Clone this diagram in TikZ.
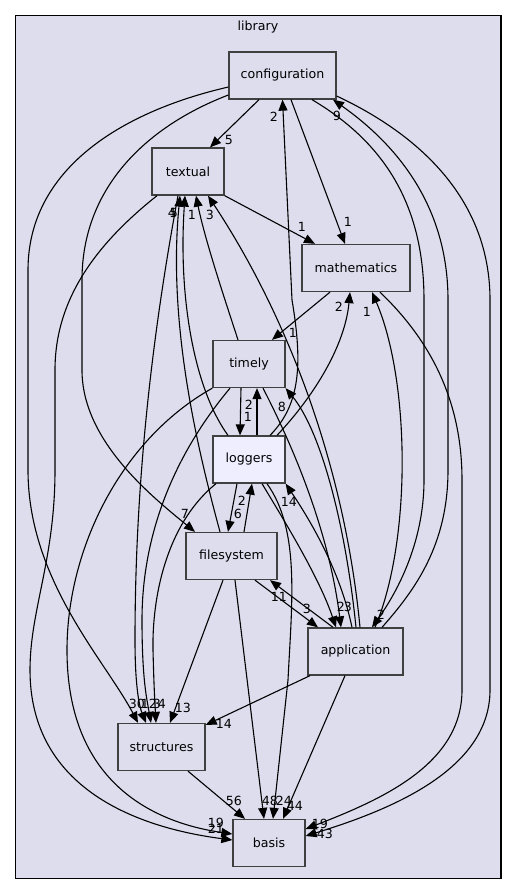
\documentclass[tikz,border=0pt]{standalone}
\usepackage{fontspec}
\setmainfont{DejaVu Sans}
\usetikzlibrary{positioning}
\usetikzlibrary{calc}
\usetikzlibrary{arrows.meta}
\definecolor{dirfill}{HTML}{DDDDEE}
\definecolor{dirmark}{HTML}{EEEEFF}
\definecolor{dirline}{HTML}{404040}

\begin{document}
\begin{tikzpicture}[
        x=1pt, y=-1pt,
        box/.style={draw=dirline, fill=dirfill, rectangle, line width=1.3pt, minimum height=47pt, inner sep=0pt, font=\fontsize{12.6}{14}\selectfont},
        arrow/.style={line width=1.1pt, -{Triangle[length=11pt,width=9pt]}},
        num/.style={inner sep=0pt, font=\fontsize{12.6}{14}\selectfont},
    ]
        \useasboundingbox (0,0) rectangle (517,895);
        \draw[fill=dirfill, line width=1.1pt] (15.5,15.5) rectangle (501,878.5);
        \node[num] (library) at (258,27) {library};

        \node[box, minimum width=107pt] (configuration) at (282.5,75.5) {configuration};
        \node[box, minimum width=72pt] (textual) at (188,171.5) {textual};
        \node[box, minimum width=108pt] (mathematics) at (356,268) {mathematics};
        \node[box, minimum width=72pt] (timely) at (249,364) {timely};
        \node[box, minimum width=72pt, fill=dirmark] (loggers) at (249,459.5) {loggers};
        \node[box, minimum width=91pt] (filesystem) at (231.5,556) {filesystem};
        \node[box, minimum width=95pt] (application) at (355.5,651.5) {application};
        \node[box, minimum width=87pt] (structures) at (161.5,747) {structures};
        \node[box, minimum width=72pt] (basis) at (269,843) {basis};

        % configuration
        \draw[arrow] ([xshift=-23.5pt]configuration.south) -- ([xshift=22pt]textual.north);
        \draw[arrow] ([xshift=8.5pt]configuration.south) -- ([xshift=-11pt]mathematics.north);
        \draw[arrow] ([yshift=-19.5pt]configuration.west) .. controls (150,125) and (82,185) .. (82,280) -- (82,370) .. controls (82,440) and (150,495) .. ([xshift=-36.5pt]filesystem.north);
        \draw[arrow] ([yshift=-11.5pt]configuration.west) .. controls (120,112) and (28,170) .. (28,270) -- (28,470) .. controls (28,580) and (105,660) .. ([xshift=-23.5pt]structures.north);
        \draw[arrow] ([xshift=29.5pt]configuration.south) .. controls (380,140) and (424,200) .. (424,300) -- (424,480) .. controls (424,545) and (395,595) .. ([xshift=16.5pt]application.north);
        \draw[arrow] ([yshift=-20.5pt]configuration.east) .. controls (420,135) and (490,200) .. (490,300) -- (490,690) .. controls (490,770) and (390,810) .. ([yshift=7pt]basis.east);

        % textual
        \draw[arrow] (textual.south east) -- ([xshift=-41pt]mathematics.north);
        \draw[arrow] ([xshift=-10pt]textual.south) .. controls (155,320) and (135,470) .. (135,640) .. controls (135,690) and (140,708) .. ([xshift=-15.5pt]structures.north);
        \draw[arrow] ([xshift=-31pt]textual.south) .. controls (95,245) and (55,300) .. (55,370) -- (55,470) .. controls (55,560) and (30,610) .. (30,670) .. controls (30,790) and (140,828) .. ([yshift=3pt]basis.west);

        % mathematics
        \draw[arrow] ([xshift=-26pt]mathematics.south) -- ([xshift=23pt]timely.north);
        \draw[arrow] ([xshift=24pt]mathematics.south) .. controls (430,340) and (462,400) .. (462,480) -- (462,690) .. controls (462,765) and (380,800) .. ([yshift=14pt]basis.east);

        % timely
        \draw[arrow] ([xshift=-11pt]timely.north) .. controls (225,300) and (205,240) .. ([xshift=8pt]textual.south);
        \draw[arrow] ([xshift=-8pt]timely.south) -- ([xshift=-9pt]loggers.north);
        \draw[arrow] ([xshift=14pt]timely.south) .. controls (300,460) and (330,540) .. ([xshift=-14.5pt]application.north);
        \draw[arrow] ([xshift=-19pt]timely.south) .. controls (170,460) and (142,540) .. (142,620) .. controls (142,680) and (147,700) .. ([xshift=-10.5pt]structures.north);
        \draw[arrow] (timely.south west) .. controls (120,440) and (67,550) .. (67,650) .. controls (67,780) and (150,822) .. ([yshift=9pt]basis.west);

        % loggers
        \draw[arrow] ([xshift=21pt]loggers.north) .. controls (300,405) and (303,365) .. (292,300) -- (configuration.south);
        \draw[arrow] ([xshift=-21pt]loggers.north) .. controls (195,390) and (178,300) .. ([xshift=-3pt]textual.south);
        \draw[arrow] ([xshift=28pt]loggers.north) .. controls (315,395) and (345,345) .. ([xshift=-6pt]mathematics.south);
        \draw[arrow] ([xshift=8pt]loggers.north) -- ([xshift=8pt]timely.south);
        \draw[arrow] ([xshift=-12pt]loggers.south) -- ([xshift=-3.5pt]filesystem.north);
        \draw[arrow] ([xshift=13pt]loggers.south) .. controls (290,530) and (320,580) .. ([xshift=-19.5pt]application.north);
        \draw[arrow] ([xshift=-33pt]loggers.south) .. controls (165,525) and (152,600) .. (153,650) .. controls (154,690) and (155,705) .. ([xshift=-5.5pt]structures.north);
        \draw[arrow] ([xshift=18pt]loggers.south) .. controls (300,530) and (292,600) .. (288,680) -- ([xshift=4pt]basis.north);

        % filesystem
        \draw[arrow] ([xshift=-11.5pt]filesystem.north) .. controls (195,440) and (168,320) .. ([xshift=-8pt]textual.south);
        \draw[arrow] ([xshift=12.5pt]filesystem.north) -- ([xshift=3pt]loggers.south);
        \draw[arrow] ([xshift=23.5pt]filesystem.south) -- ([xshift=-37.5pt]application.north);
        \draw[arrow] ([xshift=-8.5pt]filesystem.south) -- ([xshift=8.5pt]structures.north);
        \draw[arrow] ([xshift=3.5pt]filesystem.south) -- ([xshift=-5pt]basis.north);

        % application
        \draw[arrow] ([xshift=26.5pt]application.north) .. controls (415,590) and (448,545) .. (448,470) -- (448,300) .. controls (448,200) and (390,140) .. ([xshift=50.5pt]configuration.south);
        \draw[arrow] ([xshift=4.5pt]application.north) .. controls (345,470) and (290,320) .. ([xshift=20pt]textual.south);
        \draw[arrow] ([xshift=19.5pt]application.north) .. controls (412,540) and (410,380) .. ([xshift=16pt]mathematics.south);
        \draw[arrow] ([xshift=0.5pt]application.north) .. controls (345,520) and (320,430) .. (timely.south east);
        \draw[arrow] ([xshift=-3.5pt]application.north) .. controls (340,570) and (310,520) .. (loggers.south east);
        \draw[arrow] ([xshift=-22.5pt]application.north) -- ([xshift=38.5pt]filesystem.south);
        \draw[arrow] ([xshift=-45.5pt]application.south) -- ([yshift=22pt]structures.east);
        \draw[arrow] ([xshift=-10.5pt]application.south) -- ([xshift=14pt]basis.north);

        % structures
        \draw[arrow] ([xshift=26.5pt]structures.south) -- ([xshift=-24pt]basis.north);

        % counts
        \node[num] (conf-text) at (229,140) {5};
        \node[num] (conf-math) at (348,222) {1};
        \node[num] (conf-file) at (185,514) {7};
        \node[num] (conf-struct) at (137,704) {30};
        \node[num] (conf-app) at (381,615) {2};
        \node[num] (conf-basis) at (325,834) {43};
        \node[num] (text-math) at (302,227) {1};
        \node[num] (text-struct) at (149,704) {12};
        \node[num] (text-basis) at (216,829) {21};
        \node[num] (math-time) at (293,333) {1};
        \node[num] (math-basis) at (320,824) {19};
        \node[num] (time-text) at (192,215) {1};
        \node[num] (time-log) at (248,417) {1};
        \node[num] (time-app) at (341,607) {2};
        \node[num] (time-struct) at (157,704) {3};
        \node[num] (time-basis) at (216,823) {19};
        \node[num] (log-conf) at (274,117) {2};
        \node[num] (log-text) at (174,213) {5};
        \node[num] (log-math) at (339,307) {2};
        \node[num] (log-time) at (249,405) {2};
        \node[num] (log-file) at (238,514) {6};
        \node[num] (log-app) at (348,607) {3};
        \node[num] (log-struct) at (162,704) {4};
        \node[num] (log-basis) at (284,801) {24};
        \node[num] (file-text) at (172,213) {4};
        \node[num] (file-log) at (242,501) {2};
        \node[num] (file-app) at (307,609) {3};
        \node[num] (file-struct) at (183,708) {13};
        \node[num] (file-basis) at (270,801) {48};
        \node[num] (app-conf) at (337,116) {9};
        \node[num] (app-text) at (210,215) {3};
        \node[num] (app-math) at (367,312) {1};
        \node[num] (app-time) at (282,407) {8};
        \node[num] (app-log) at (289,502) {14};
        \node[num] (app-file) at (279,597) {11};
        \node[num] (app-struct) at (224,724) {14};
        \node[num] (app-basis) at (295,806) {44};
        \node[num] (struct-basis) at (234,801) {56};
    \end{tikzpicture}
\end{document}
